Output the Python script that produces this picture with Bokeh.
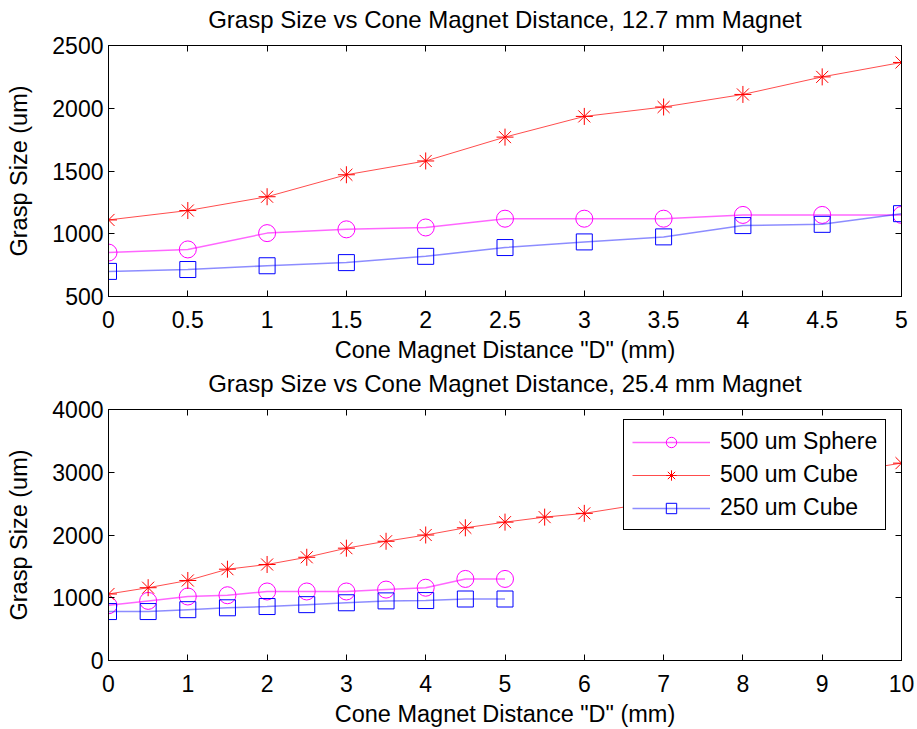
from bokeh.plotting import figure
from bokeh.models import (Range1d, FixedTicker, LinearAxis, NumeralTickFormatter,
                          Legend, LegendItem)
from bokeh.layouts import column
from bokeh.embed import file_html
from bokeh.resources import INLINE

# ---- data: 12.7 mm magnet ----
x_127 = [0, 0.5, 1, 1.5, 2, 2.5, 3, 3.5, 4, 4.5, 5]
sphere500_127 = [850, 875, 1005, 1035, 1050, 1120, 1120, 1120, 1150, 1150, 1150]
cube500_127 = [1110, 1185, 1295, 1470, 1580, 1770, 1935, 2010, 2110, 2250, 2365]
cube250_127 = [700, 715, 745, 770, 820, 890, 935, 975, 1065, 1075, 1160]

# ---- data: 25.4 mm magnet ----
x_254 = [0, 0.5, 1, 1.5, 2, 2.5, 3, 3.5, 4, 4.5, 5]
sphere500_254 = [880, 950, 1020, 1040, 1100, 1100, 1100, 1130, 1160, 1300, 1300]
cube250_254 = [780, 780, 810, 840, 860, 890, 920, 950, 955, 980, 980]
x_cube500_254 = [0, 0.5, 1, 1.5, 2, 2.5, 3, 3.5, 4, 4.5, 5, 5.5, 6, 10]
cube500_254 = [1060, 1160, 1275, 1455, 1530, 1645, 1790, 1900, 2000, 2115, 2205, 2285, 2345, 3145]

xticks_top = [0, 0.5, 1, 1.5, 2, 2.5, 3, 3.5, 4, 4.5, 5]
yticks_top = [500, 1000, 1500, 2000, 2500]
xticks_bot = [0, 1, 2, 3, 4, 5, 6, 7, 8, 9, 10]
yticks_bot = [0, 1000, 2000, 3000, 4000]

labels = ["500 um Sphere", "500 um Cube", "250 um Cube"]
title_top = "Grasp Size vs Cone Magnet Distance, 12.7 mm Magnet"
title_bot = "Grasp Size vs Cone Magnet Distance, 25.4 mm Magnet"
xlabel = 'Cone Magnet Distance "D" (mm)'
ylabel = "Grasp Size (um)"

FONT = "Liberation Sans"
TICK_FS = "23px"
LABEL_FS = "23.5px"
TITLE_FS = "24px"
LEGEND_FS = "23px"

FRAME_W = 793
FRAME_H = 252


def style_axis(ax, ticks, show_labels=True):
    ax.ticker = FixedTicker(ticks=ticks)
    ax.major_tick_in = 6
    ax.major_tick_out = 0
    ax.minor_tick_line_color = None
    ax.axis_line_color = "black"
    ax.major_tick_line_color = "black"
    ax.axis_label_text_font = FONT
    ax.axis_label_text_font_style = "normal"
    ax.axis_label_text_color = "black"
    if show_labels:
        ax.major_label_text_font = FONT
        ax.major_label_text_font_size = TICK_FS
        ax.major_label_text_color = "black"
        ax.axis_label_text_font_size = LABEL_FS
    else:
        ax.major_label_text_font_size = "1px"
        ax.major_label_text_color = None
        ax.major_label_standoff = 0


def make_fig(title, xr, yr, xt, yt, height, top_border):
    p = figure(width=917, height=height, output_backend="svg", toolbar_location=None,
               x_range=Range1d(*xr), y_range=Range1d(*yr),
               min_border_left=108, min_border_right=917 - 108 - FRAME_W,
               min_border_top=top_border, min_border_bottom=height - top_border - FRAME_H)
    p.xgrid.visible = False
    p.ygrid.visible = False
    p.outline_line_color = "black"
    p.outline_line_alpha = 1
    p.background_fill_color = "white"
    p.border_fill_color = "white"

    style_axis(p.xaxis[0], xt)
    style_axis(p.yaxis[0], yt)
    p.xaxis[0].axis_label = xlabel
    p.yaxis[0].axis_label = ylabel
    p.xaxis[0].major_label_standoff = 14
    p.yaxis[0].major_label_standoff = 5
    p.yaxis[0].axis_label_standoff = 17
    p.xaxis[0].axis_label_standoff = 6

    ra = LinearAxis()
    style_axis(ra, yt, show_labels=False)
    p.add_layout(ra, "right")

    # top axis: inward ticks, and the chart title as its label
    ta = LinearAxis(axis_label=title)
    style_axis(ta, xt, show_labels=False)
    ta.axis_label_text_font_size = TITLE_FS
    ta.axis_label_standoff = 13
    p.add_layout(ta, "above")
    return p


def add_series(p, x, y, color, marker, lw, alpha, size):
    ln = p.line(x, y, line_color=color, line_width=lw, line_alpha=alpha)
    mk = p.scatter(x, y, marker=marker, size=size, line_color=color,
                   fill_color=None, line_width=1)
    return ln, mk


p1 = make_fig(title_top, (0, 5), (500, 2500), xticks_top, yticks_top, 365, 45)
p1.xaxis[0].formatter = NumeralTickFormatter(format="0.[0]")
add_series(p1, x_127, sphere500_127, "#ff00ff", "circle", 1.5, 0.6, 17)
add_series(p1, x_127, cube500_127, "#ff0000", "asterisk", 1, 0.7, 17)
add_series(p1, x_127, cube250_127, "#0000ff", "square", 1.5, 0.45, 16)

p2 = make_fig(title_bot, (0, 10), (0, 4000), xticks_bot, yticks_bot, 364, 44)
s1 = add_series(p2, x_254, sphere500_254, "#ff00ff", "circle", 1.5, 0.6, 17)
s2 = add_series(p2, x_cube500_254, cube500_254, "#ff0000", "asterisk", 1, 0.7, 17)
s3 = add_series(p2, x_254, cube250_254, "#0000ff", "square", 1.5, 0.45, 16)

legend = Legend(items=[LegendItem(label=labels[0], renderers=list(s1)),
                       LegendItem(label=labels[1], renderers=list(s2)),
                       LegendItem(label=labels[2], renderers=list(s3))],
                location=(515, 130))
legend.label_text_font = FONT
legend.label_text_font_size = LEGEND_FS
legend.label_text_color = "black"
legend.glyph_width = 78
legend.glyph_height = 26
legend.label_height = 26
legend.spacing = 6
legend.padding = 8
legend.margin = 0
legend.label_standoff = 10
legend.border_line_color = "black"
legend.border_line_width = 1
legend.border_line_alpha = 1
legend.background_fill_color = "white"
legend.background_fill_alpha = 1
p2.add_layout(legend)

layout = column(p1, p2, spacing=0)
open("out.html", "w").write(file_html(layout, INLINE))
